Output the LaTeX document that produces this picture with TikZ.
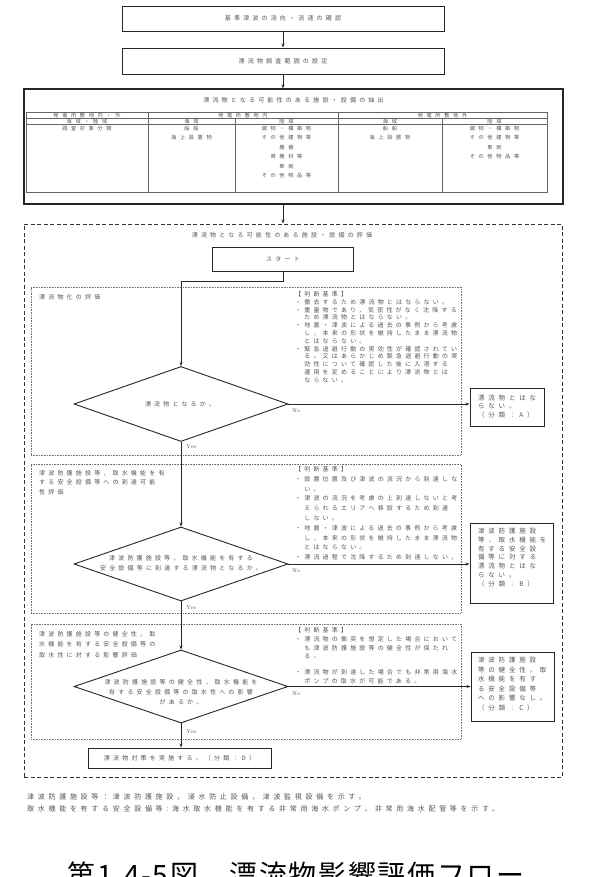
\documentclass[tikz,border=0pt]{standalone}
\usepackage{fontspec}
\newfontfamily\jA[LetterSpace=53]{Noto Sans CJK JP}
\newfontfamily\jB[LetterSpace=58]{Noto Sans CJK JP}
\newfontfamily\jT[LetterSpace=70]{Noto Sans CJK JP}
\newfontfamily\jC[LetterSpace=6]{Noto Sans CJK JP}
\usetikzlibrary{arrows.meta,shapes.geometric}
\definecolor{tgray}{gray}{0.33}
\definecolor{lgray}{gray}{0.15}
\begin{document}
\begin{tikzpicture}[x=1pt,y=-1pt,
  every node/.style={inner sep=0pt},
  jt/.style={font=\jA\fontsize{6}{9}\selectfont, text=tgray, align=center},
  bt/.style={font=\jB\fontsize{6.5}{8.8}\selectfont, text=tgray, align=left},
  tt/.style={font=\jT\fontsize{5.2}{9.5}\selectfont, text=tgray, align=center},
  crit/.style={font=\jA\fontsize{6}{7.8}\selectfont, text=tgray, align=left, anchor=north west},
  lat/.style={font=\fontsize{5.5}{6}\selectfont, text=tgray, anchor=west},
  box/.style={draw=lgray, line width=0.9pt, fill=white},
  secbox/.style={draw=black!55, line width=0.7pt, dash pattern=on 0.8pt off 0.8pt},
  outerbox/.style={draw=black!80, line width=0.9pt, dash pattern=on 4pt off 2.5pt},
  dia/.style={draw=lgray, line width=0.9pt, fill=white, diamond, minimum width=214pt, minimum height=75pt, inner sep=0pt},
  arr/.style={draw=lgray, line width=0.8pt, -{Stealth[length=4pt,width=3pt]}},
  tline/.style={draw=black!60, line width=0.5pt}
]
\useasboundingbox (0,0) rectangle (589,877);

% top boxes
\node[box, jt, minimum width=322pt, minimum height=25pt] (b1) at (283,18.5) {基準津波の流向・流速の確認};
\node[box, jt, minimum width=322pt, minimum height=26pt] (b2) at (283,61) {漂流物調査範囲の設定};
\draw[arr] (b1.south) -- (b2.north);

% extraction table box
\node[draw=lgray, line width=1.2pt, fill=white, minimum width=539pt, minimum height=115pt] (tb) at (293.5,146.5) {};
\draw[arr] (b2.south) -- (b2.south |- tb.north);
\node[jt] (tbt) at (293.5,100) {漂流物となる可能性のある施設・設備の抽出};
\draw[tline] (26,112) rectangle (547,192);
\draw[tline] (26,118) -- (547,118);
\draw[tline] (26,124) -- (547,124);
\draw[tline] (148,112) -- (148,192);
\draw[tline] (338,112) -- (338,192);
\draw[tline] (235,118) -- (235,192);
\draw[tline] (442,118) -- (442,192);
\node[tt] (c11) at (87,115.2) {発電所敷地内・外};
\node[tt] (c12) at (243,115.2) {発電所敷地内};
\node[tt] (c13) at (442.5,115.2) {発電所敷地外};
\node[tt] (c21) at (87,121.2) {海域・陸域};
\node[tt] (c22) at (191.5,121.2) {海域};
\node[tt] (c23) at (286.5,121.2) {陸域};
\node[tt] (c24) at (390,121.2) {海域};
\node[tt] (c25) at (494.5,121.2) {陸域};
\node[tt, anchor=north] (c31) at (87,125.8) {調査対象分類};
\node[tt, anchor=north] (c32) at (191.5,125.8) {船舶\\海上設置物};
\node[tt, anchor=north] (c33) at (286.5,125.8) {建物・構築物\\その他建物等\\機器\\資機材等\\車両\\その他物品等};
\node[tt, anchor=north] (c34) at (390,125.8) {船舶\\海上設置物};
\node[tt, anchor=north] (c35) at (494.5,125.8) {建物・構築物\\その他建物等\\車両\\その他物品等};

% evaluation dashed box
\node[outerbox, minimum width=538pt, minimum height=553pt] (ev) at (293,500.5) {};
\draw[arr] (b2.south |- tb.south) -- (b2.south |- ev.north);
\node[jt] (evt) at (282,235) {漂流物となる可能性のある施設・設備の評価};
\node[box, jt, minimum width=141pt, minimum height=23.5pt] (s) at (283,259.25) {スタート};

% sections
\node[secbox, minimum width=430pt, minimum height=168pt] (sec1) at (246,371) {};
\node[secbox, minimum width=430pt, minimum height=149pt] (sec2) at (246,538.5) {};
\node[secbox, minimum width=430pt, minimum height=115pt] (sec3) at (246,681.5) {};

\node[jt, align=left, anchor=north west] (l1) at (39,294) {漂流物化の評価};
\node[jt, align=left, anchor=north west, font=\jA\fontsize{6}{9.5}\selectfont] (l2) at (39,470) {津波防護施設等，取水機能を有\\する安全設備等への到達可能\\性評価};
\node[jt, align=left, anchor=north west, font=\jA\fontsize{6}{10.5}\selectfont] (l3) at (39,631) {津波防護施設等の健全性，取\\水機能を有する安全設備等の\\取水性に対する影響評価};

\node[crit] (cr1) at (295,291.3) {【判断基準】\\・撤去するため漂流物とはならない。\\・重量物であり，気密性がなく沈降する\\　ため漂流物とはならない。\\・地震・津波による過去の事例から考慮\\　し，本来の形状を維持したまま漂流物\\　とはならない。\\・緊急退避行動の実効性が確認されてい\\　る。又はあらかじめ緊急退避行動の実\\　効性について確認した後に入港する\\　運用を定めることにより漂流物とは\\　ならない。};
\node[crit, font=\jA\fontsize{6}{9.8}\selectfont] (cr2) at (295,466.3) {【判断基準】\\・設置位置及び津波の流況から到達しな\\　い。\\・津波の流況を考慮の上到達しないと考\\　えられるエリアへ移設するため到達\\　しない。\\・地震・津波による過去の事例から考慮\\　し，本来の形状を維持したまま漂流物\\　とはならない。\\・漂流過程で沈降するため到達しない。};
\node[crit, font=\jA\fontsize{6}{8.8}\selectfont] (cr3) at (295,627.3) {【判断基準】\\・漂流物の衝突を想定した場合において\\　も津波防護施設等の健全性が保たれ\\　る。\\[7pt]・漂流物が到達した場合でも非常用海水\\　ポンプの取水が可能である。};

% diamonds
\node[dia] (d1) at (181,404) {};
\node[jt] (d1t) at (180,404) {漂流物となるか。};
\node[dia, minimum height=74pt] (d2) at (181,564) {};
\node[jt, font=\jA\fontsize{6}{10}\selectfont] (d2t) at (181,563) {津波防護施設等，取水機能を有する\\安全設備等に到達する漂流物となるか。};
\node[dia, minimum height=73pt] (d3) at (181,686.5) {};
\node[jt, font=\jA\fontsize{6}{10}\selectfont] (d3t) at (181,692) {津波防護施設等の健全性，取水機能を\\有する安全設備等の取水性への影響\\があるか。};

% result boxes
\node[box, minimum width=74pt, minimum height=38pt] (A) at (507,407) {};
\node[bt, anchor=west] (At) at (478,406.5) {漂流物とはな\\らない。\\（分類：A）};
\node[box, minimum width=83pt, minimum height=80pt] (B) at (511.5,563) {};
\node[bt, anchor=west] (Bt) at (478,557.5) {津波防護施設\\等，取水機能を\\有する安全設\\備等に対する\\漂流物とはな\\らない。\\（分類：B）};
\node[box, minimum width=83pt, minimum height=69pt] (C) at (512.5,686.5) {};
\node[bt, anchor=west, font=\jB\fontsize{6.5}{9.6}\selectfont] (Ct) at (478,684) {津波防護施設\\等の健全性，取\\水機能を有す\\る安全設備等\\への影響なし。\\（分類：C）};
\node[box, jt, minimum width=183pt, minimum height=20pt] (D) at (179.5,758) {漂流物対策を実施する。（分類：D）};

% connectors
\draw[arr] (s.south) -- ++(0,10) -| (d1.north);
\draw[arr] (d1.east) -- (d1.east -| A.west);
\draw[arr] (d1.south) -- (d2.north);
\draw[arr] (d2.east) -- (d2.east -| B.west);
\draw[arr] (d2.south) -- (d3.north);
\draw[arr] (d3.east) -- (d3.east -| C.west);
\draw[arr] (d3.south) -- (d3.south |- D.north);

\node[lat] (n1) at (292,411) {No};
\node[lat] (n2) at (292,571) {No};
\node[lat] (n3) at (292,694) {No};
\node[lat] (y1) at (186,447) {Yes};
\node[lat] (y2) at (186,608) {Yes};
\node[lat] (y3) at (186,732) {Yes};

% footnotes
\node[jt, font=\jA\fontsize{7}{12}\selectfont, align=left, anchor=north west] (fn) at (27,793.3) {津波防護施設等：津波防護施設，浸水防止設備，津波監視設備を示す。\\取水機能を有する安全設備等:海水取水機能を有する非常用海水ポンプ，非常用海水配管等を示す。};

% caption
\node[font=\jC\fontsize{28}{30}\selectfont, anchor=base] (cap) at (296,885) {第\hspace{2pt}1.4-5\hspace{2pt}図　漂流物影響評価フロー};
\end{tikzpicture}
\end{document}
